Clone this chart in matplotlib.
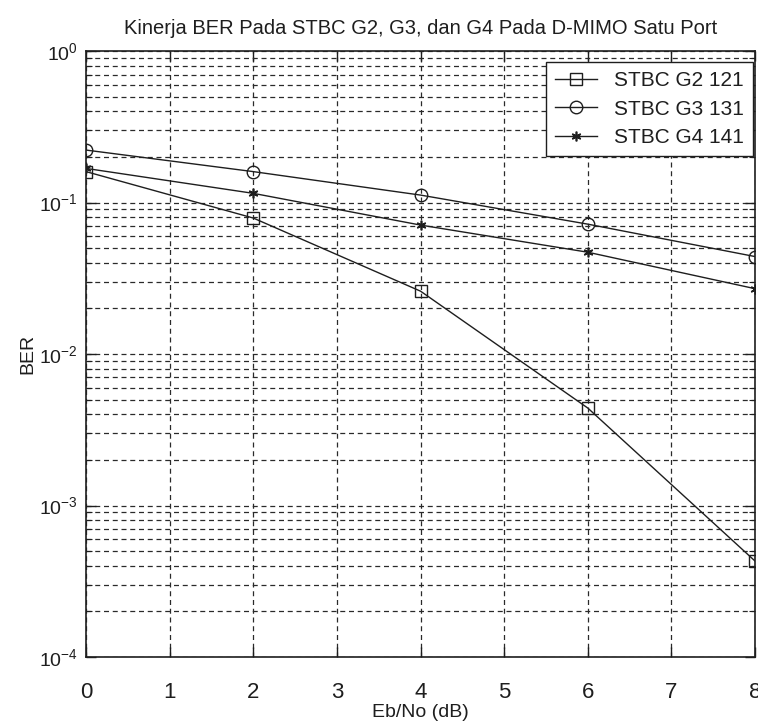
import matplotlib
matplotlib.use("Agg")
import matplotlib.pyplot as plt
from matplotlib.ticker import FixedLocator, LogLocator, NullFormatter

plt.rcParams['font.family'] = ['Liberation Sans Narrow', 'Liberation Sans', 'DejaVu Sans']
plt.rcParams['mathtext.default'] = 'regular'

# data (BER vs Eb/No)
ebno = [0, 2, 4, 6, 8]
ber_g2 = [0.160, 0.079, 0.026, 0.0044, 0.00043]
ber_g3 = [0.222, 0.160, 0.112, 0.072, 0.044]
ber_g4 = [0.168, 0.115, 0.071, 0.047, 0.027]
labels = ['STBC G2 121', 'STBC G3 131', 'STBC G4 141']
xticks = [0, 1, 2, 3, 4, 5, 6, 7, 8]
yticks = [1e-4, 1e-3, 1e-2, 1e-1, 1e0]
ytick_labels = [r'$10^{-4}$', r'$10^{-3}$', r'$10^{-2}$', r'$10^{-1}$', r'$10^{0}$']

INK = "#1e1e1e"

fig = plt.figure(figsize=(7.58, 7.22), dpi=100, facecolor="white")
ax = fig.add_axes([0.1135, 0.090, 0.8826, 0.8393])

ax.plot(ebno, ber_g2, color=INK, lw=1.0, marker='s', ms=9, mfc='none', mec=INK, mew=1.0, label=labels[0])
ax.plot(ebno, ber_g3, color=INK, lw=1.0, marker='o', ms=9, mfc='none', mec=INK, mew=1.0, label=labels[1])
ax.plot(ebno, ber_g4, color=INK, lw=1.0, marker=(6, 2, 0), ms=7, mec=INK, mew=1.2, label=labels[2])

ax.set_yscale('log')
ax.set_xlim(0, 8)
ax.set_ylim(1e-4, 1e0)
ax.xaxis.set_major_locator(FixedLocator(xticks))
ax.yaxis.set_major_locator(FixedLocator(yticks))
ax.set_yticklabels(ytick_labels)
ax.yaxis.set_minor_locator(LogLocator(base=10, subs=range(2, 10)))
ax.yaxis.set_minor_formatter(NullFormatter())

# MATLAB-style dashed grid on every major and minor line
ax.grid(True, which='major', axis='both', color="#2a2a2a", lw=0.9, linestyle=(0, (4, 3)))
ax.grid(True, which='minor', axis='y', color="#2a2a2a", lw=0.9, linestyle=(0, (4, 3)))

ax.tick_params(which='both', direction='in', top=True, right=True, colors=INK)
ax.tick_params(which='major', length=7, width=1.0)
ax.tick_params(which='minor', length=4, width=0.8)
ax.tick_params(axis='x', labelsize=16, pad=18)
ax.tick_params(axis='y', labelsize=14, pad=6)
for spine in ax.spines.values():
    spine.set_color(INK)
    spine.set_linewidth(1.2)

ax.set_title("Kinerja BER Pada STBC G2, G3, dan G4 Pada D-MIMO Satu Port", fontsize=14.5, color=INK, pad=12)
ax.set_xlabel("Eb/No (dB)", fontsize=14, color=INK, labelpad=1)
ax.set_ylabel("BER", fontsize=14, color=INK, labelpad=2)

leg = ax.legend(loc='upper right', bbox_to_anchor=(0.997, 0.982), borderaxespad=0,
                fontsize=15, fancybox=False, framealpha=1, edgecolor=INK,
                handlelength=2.0, labelspacing=0.45, borderpad=0.45)
leg.get_frame().set_linewidth(1.0)
for t in leg.get_texts():
    t.set_color(INK)

fig.savefig("out.png", dpi=100, facecolor="white")
